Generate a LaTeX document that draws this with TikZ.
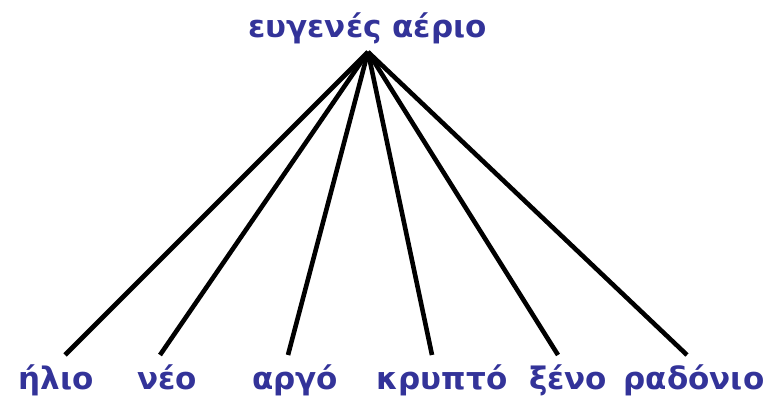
\documentclass[tikz,border=0pt]{standalone}
\usepackage{fontspec}
\setmainfont{DejaVu Sans}
\definecolor{gasblue}{HTML}{333399}
\begin{document}
\begin{tikzpicture}[x=1pt,y=1pt,
  word/.style={font=\bfseries\fontsize{31}{36}\selectfont, text=gasblue, anchor=base, inner sep=0pt},
  link/.style={line width=4.6pt, line cap=butt}]
\useasboundingbox (0,0) rectangle (778,398);
\node[word] (top) at (367.5,360) {ευγενές αέριο};
\coordinate (apex) at (368,346);
\node[word] (n1) at (56,8.5) {ήλιο};
\node[word] (n2) at (167,8.5) {νέο};
\node[word] (n3) at (295,8.5) {αργό};
\node[word] (n4) at (442,8.5) {κρυπτό};
\node[word] (n5) at (568,8.5) {ξένο};
\node[word] (n6) at (694,8.5) {ραδόνιο};
\coordinate (e1) at (65,43);
\coordinate (e2) at (160,43);
\coordinate (e3) at (288,43);
\coordinate (e4) at (432,43);
\coordinate (e5) at (558,43);
\coordinate (e6) at (687,43);
\foreach \i in {1,...,6} \draw[link] (apex) -- (e\i);
\end{tikzpicture}
\end{document}
